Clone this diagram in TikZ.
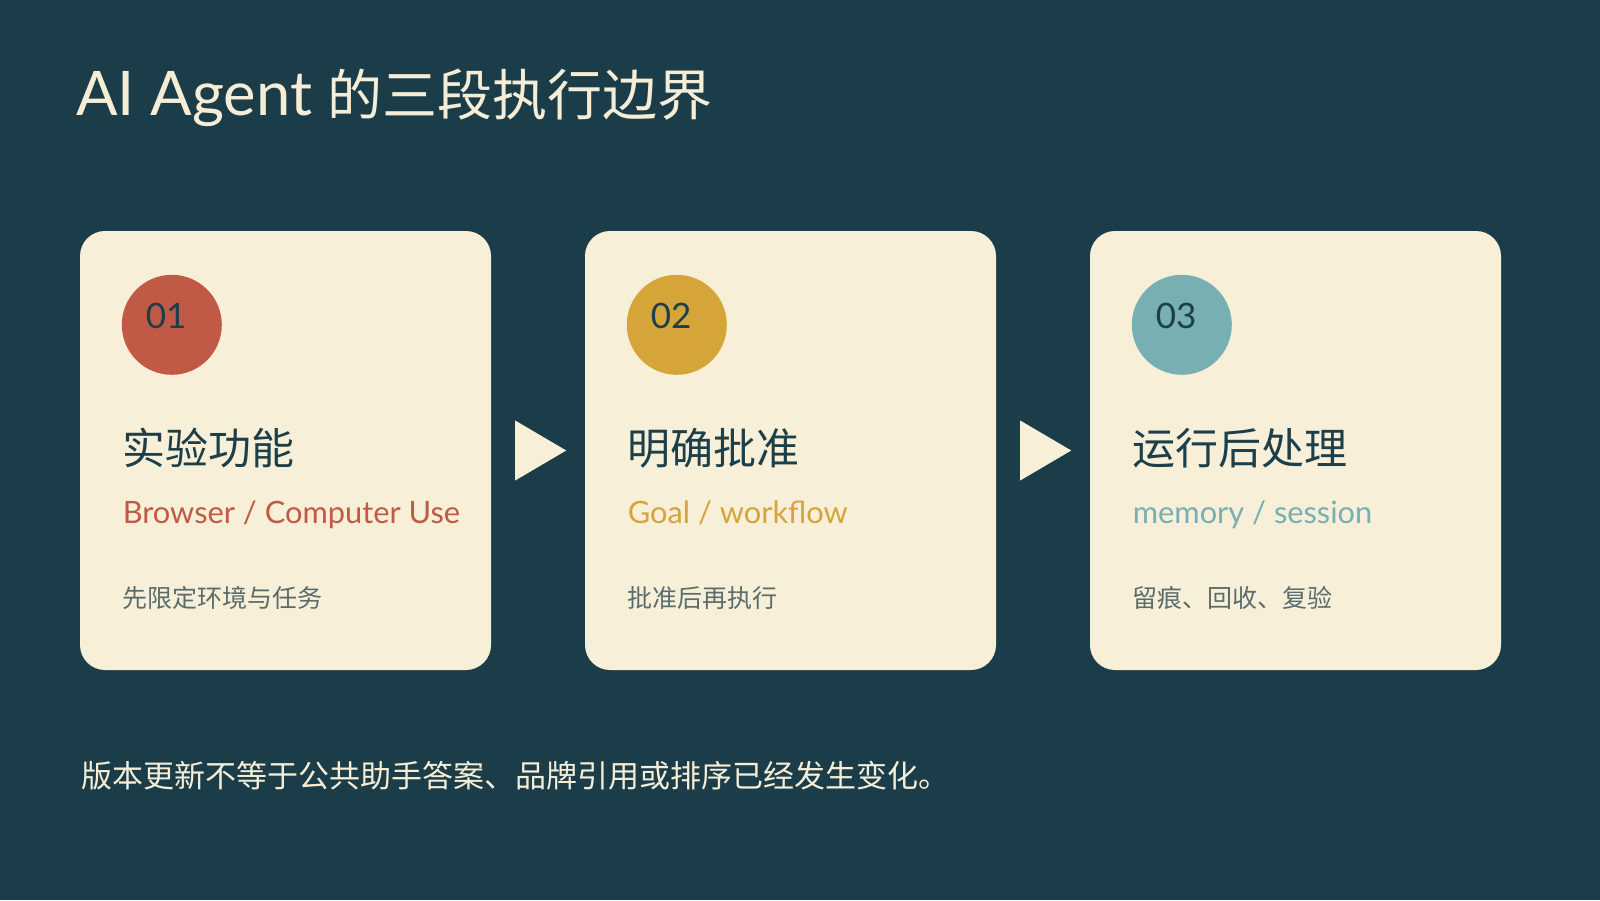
\documentclass[tikz,border=0pt]{standalone}
\usepackage{fontspec}
\setmainfont{Noto Sans CJK SC}
\newfontfamily\latin{Lato}
\usetikzlibrary{calc}
\definecolor{bg}{HTML}{1B3D49}
\definecolor{cream}{HTML}{F8EFD8}
\definecolor{titlec}{HTML}{F6EDD6}
\definecolor{dark}{HTML}{1D3F4A}
\definecolor{gray}{HTML}{5A6D6D}
\definecolor{cred}{HTML}{C05A47}
\definecolor{cgold}{HTML}{D5A53A}
\definecolor{cteal}{HTML}{77AFB2}
\tikzset{
  card/.style={fill=cream, rounded corners=25pt, minimum width=411pt, minimum height=439pt, inner sep=0pt, draw=none},
  badge/.style={circle, minimum size=100pt, inner sep=0pt, draw=none},
  txt/.style={anchor=base west, inner sep=0pt, outer sep=0pt},
  title/.style={txt, text=titlec, font=\fontsize{55}{60}\selectfont},
  head/.style={txt, text=dark, font=\fontsize{43}{48}\selectfont},
  sub/.style={txt, font=\latin\fontsize{30.8}{35}\selectfont},
  small/.style={txt, text=gray, font=\fontsize{25}{30}\selectfont},
  num/.style={txt, text=dark, font=\latin\fontsize{35}{40}\selectfont},
  note/.style={txt, text=titlec, font=\fontsize{31}{36}\selectfont},
  arrowtri/.style={fill=cream, draw=none}
}
\begin{document}
\begin{tikzpicture}[x=1pt, y=-1pt]
\useasboundingbox (0,0) rectangle (1600,900);
\fill[bg] (0,0) rectangle (1600,900);

\node[title] (title) at (76,115) {{\latin\fontsize{61.5}{66}\selectfont AI Agent }的三段执行边界};

\node[card] (c1) at (285.5,450.5) {};
\node[card] (c2) at (790.5,450.5) {};
\node[card] (c3) at (1295.5,450.5) {};

\node[badge, fill=cred]  (b1) at ($(c1.north west)+(92,94)$) {};
\node[badge, fill=cgold] (b2) at ($(c2.north west)+(92,94)$) {};
\node[badge, fill=cteal] (b3) at ($(c3.north west)+(92,94)$) {};

\node[num] (n1) at ($(c1.north west)+(66,98)$) {01};
\node[num] (n2) at ($(c2.north west)+(66,98)$) {02};
\node[num] (n3) at ($(c3.north west)+(66,98)$) {03};

\node[head] (h1) at ($(c1.north west)+(43,234)$) {实验功能};
\node[head] (h2) at ($(c2.north west)+(43,234)$) {明确批准};
\node[head] (h3) at ($(c3.north west)+(43,234)$) {运行后处理};

\node[sub, text=cred]  (s1) at ($(c1.north west)+(43,293)$) {Browser / Computer Use};
\node[sub, text=cgold] (s2) at ($(c2.north west)+(43,293)$) {Goal / workflow};
\node[sub, text=cteal] (s3) at ($(c3.north west)+(43,293)$) {memory / session};

\node[small] (d1) at ($(c1.north west)+(43,377)$) {先限定环境与任务};
\node[small] (d2) at ($(c2.north west)+(43,377)$) {批准后再执行};
\node[small] (d3) at ($(c3.north west)+(43,377)$) {留痕、回收、复验};

\fill[arrowtri] ($(c1.east)+(24,-30)$) -- ($(c1.east)+(75,0)$) -- ($(c1.east)+(24,30)$) -- cycle;
\fill[arrowtri] ($(c2.east)+(24,-30)$) -- ($(c2.east)+(75,0)$) -- ($(c2.east)+(24,30)$) -- cycle;

\node[note] (note) at (81,787) {版本更新不等于公共助手答案、品牌引用或排序已经发生变化。};
\end{tikzpicture}
\end{document}
